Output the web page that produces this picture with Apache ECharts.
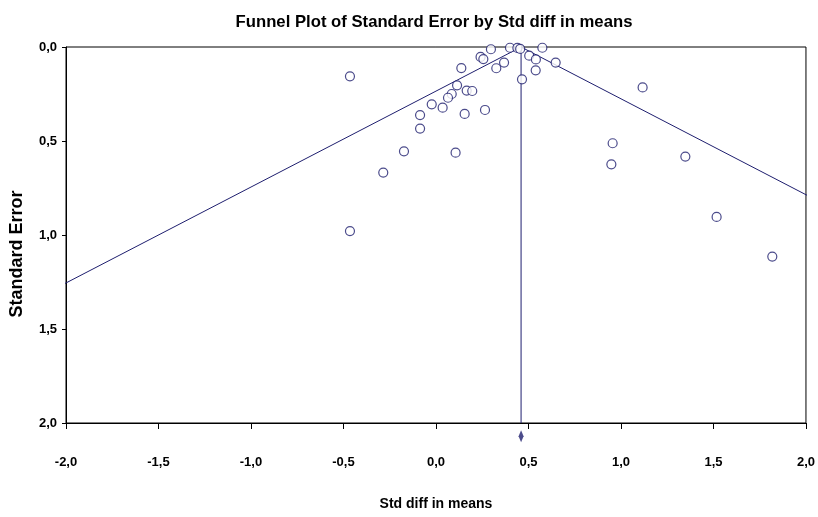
<!DOCTYPE html>
<html>
<head>
<meta charset="utf-8">
<script src="https://cdn.jsdelivr.net/npm/echarts@6/dist/echarts.min.js"></script>
<style>
	html, body { margin: 0; padding: 0; background: #fff; }
	#chart { width: 818px; height: 517px; }
</style>
</head>
<body>
<div id="chart"></div>
<script>
// studies: std diff in means, standard error
const studyEffect = [
	-0.465, 0.297, 0.40, 0.44, 0.455, 0.575, 0.241, 0.256, 0.504, 0.54,
	0.647, 0.368, 0.326, 0.137, 0.539, 0.465, 0.114, 0.166, 0.196, 0.085,
	0.065, -0.023, 0.036, 0.265, 0.155, -0.086, -0.086, -0.173, 0.106, -0.285,
	-0.465, 1.117, 0.955, 0.948, 1.348, 1.517, 1.818
];
const studySE = [
	0.156, 0.012, 0.004, 0.005, 0.010, 0.004, 0.053, 0.064, 0.046, 0.066,
	0.083, 0.083, 0.113, 0.112, 0.124, 0.172, 0.204, 0.232, 0.234, 0.250,
	0.270, 0.305, 0.323, 0.335, 0.356, 0.362, 0.434, 0.555, 0.562, 0.668,
	0.979, 0.215, 0.512, 0.624, 0.583, 0.904, 1.115
];
const pooledEffect = 0.46;
const xTicks = [-2, 2, 0.5];
const yTicks = [0, 2, 0.5];

const navy = '#1e1e6e';
const font = '"Liberation Sans", Arial, sans-serif';
const fmt = v => v.toFixed(1).replace('.', ',');

let points = studyEffect.map((x, i) => [x, studySE[i]]);
// 95% pseudo confidence limits
let funnel = [
	[pooledEffect - 1.96 * yTicks[1], yTicks[1]],
	[pooledEffect, 0],
	[pooledEffect + 1.96 * yTicks[1], yTicks[1]]
];

let myChart = echarts.init(document.getElementById('chart'));
let option = {
	animation: false,
	title: {
		text: 'Funnel Plot of Standard Error by Std diff in means',
		left: 429,
		top: 9,
		textAlign: 'center',
		textStyle: {
			fontFamily: font,
			fontSize: 16.7,
			fontWeight: 'bold',
			color: '#000'
		}
	},
	graphic: [{
		type: 'text',
		x: 17,
		y: 254,
		rotation: Math.PI / 2,
		style: {
			text: 'Standard Error',
			fontFamily: font,
			fontSize: 18,
			fontWeight: 'bold',
			fill: '#000',
			align: 'center',
			verticalAlign: 'middle'
		}
	}],
	grid: {
		left: 66, right: 12, top: 47, bottom: 94,
		show: true,
		borderColor: '#000',
		borderWidth: 1
	},
	xAxis: {
		type: 'value',
		min: xTicks[0], max: xTicks[1], interval: xTicks[2],
		name: 'Std diff in means',
		nameLocation: 'middle',
		nameGap: 74,
		nameTextStyle: {
			fontFamily: font,
			fontSize: 14, fontWeight: 'bold', color: '#000'
		},
		axisLine: { onZero: false, lineStyle: { color: '#000' } },
		axisTick: { show: true, length: 6, lineStyle: { color: '#000' } },
		axisLabel: {
			margin: 33,
			formatter: fmt,
			fontFamily: font,
			fontSize: 13, fontWeight: 'bold', color: '#000'
		},
		splitLine: { show: false }
	},
	yAxis: {
		type: 'value',
		inverse: true,
		min: yTicks[0], max: yTicks[1], interval: yTicks[2],
		axisLine: { onZero: false, lineStyle: { color: '#000' } },
		axisTick: { show: true, length: 4, lineStyle: { color: '#000' } },
		axisLabel: {
			margin: 9,
			formatter: fmt,
			fontFamily: font,
			fontSize: 13, fontWeight: 'bold', color: '#000'
		},
		splitLine: { show: false }
	},
	series: [
		{
			type: 'line',
			data: funnel,
			symbol: 'none',
			clip: true,
			lineStyle: { color: navy, width: 1 },
			z: 2
		},
		{
			type: 'line',
			data: [[pooledEffect, 0], [pooledEffect, yTicks[1]]],
			symbol: 'none',
			lineStyle: { color: navy, width: 1 },
			z: 2
		},
		{
			type: 'scatter',
			data: points,
			symbol: 'circle',
			symbolSize: 9,
			itemStyle: { color: '#fff', borderColor: navy, borderWidth: 1.2 },
			z: 3
		},
		{
			type: 'scatter',
			data: [[pooledEffect, 2.07]],
			clip: false,
			symbol: 'diamond',
			symbolSize: [5, 12],
			itemStyle: { color: navy },
			z: 3
		}
	]
};
option && myChart.setOption(option);
</script>
</body>
</html>
